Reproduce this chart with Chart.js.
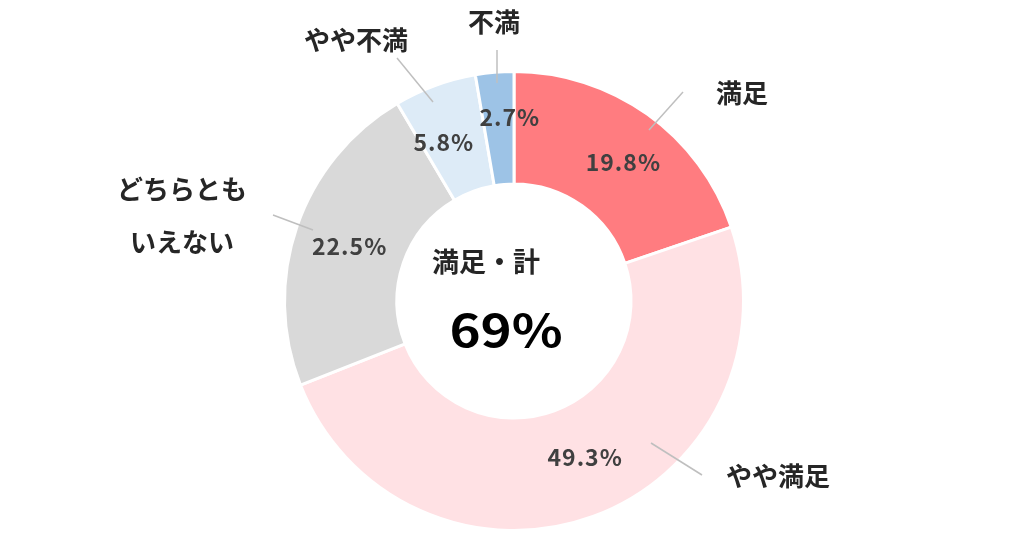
<!DOCTYPE html>
<html lang="ja">
<head>
<meta charset="utf-8">
<title>満足度</title>
<script src="https://cdn.jsdelivr.net/npm/chart.js@4.4.1/dist/chart.umd.min.js"></script>
<style>
  html, body { margin: 0; padding: 0; background: #fff; }
  #wrap { width: 1024px; height: 538px; }
</style>
</head>
<body>
<div id="wrap"><canvas id="myChart" width="1024" height="538"></canvas></div>
<script>
'use strict';

// DATA
var categories = ['満足', 'やや満足', 'どちらとも\nいえない', 'やや不満', '不満'];
var shares = [19.8, 49.3, 22.5, 5.8, 2.7];
var totalLabel = '満足・計';
var totalValue = '69%';

// COLORS
var sliceColors = ['#FF7C80', '#FFE1E4', '#D9D9D9', '#DDEBF7', '#9DC3E6'];

// LABEL LAYOUT (px offsets, relative to the ring centre / slice centre)
var pctNudge = [[8, 2], [11, -6], [-1, 2], [-11, 4], [10, -11]];
var leaderLines = [
  [[169, -209], [135, -171]],
  [[137, 142], [188, 174]],
  [[-241, -86], [-201, -71]],
  [[-117, -243], [-81, -199]],
  [[-17, -251], [-17, -218]]
];
var nameSpots = [[228, -208], [264, 175], [-332, -112], [-158, -261], [-20, -279]];
var lineGap = 53;

var FONT = '"Noto Sans CJK JP", "Noto Sans", sans-serif';

// LABELS PLUGIN
var ringLabels = {
  id: 'ringLabels',
  afterDatasetsDraw: function(chart) {
    var ctx = chart.ctx;
    var arcs = chart.getDatasetMeta(0).data;
    if (!arcs.length) return;
    var cx = arcs[0].x, cy = arcs[0].y;

    ctx.save();
    ctx.textAlign = 'center';
    ctx.textBaseline = 'middle';

    // leader lines
    ctx.strokeStyle = '#BFBFBF';
    ctx.lineWidth = 1.5;
    leaderLines.forEach(function(l) {
      ctx.beginPath();
      ctx.moveTo(cx + l[0][0], cy + l[0][1]);
      ctx.lineTo(cx + l[1][0], cy + l[1][1]);
      ctx.stroke();
    });

    // percentages
    ctx.fillStyle = '#404040';
    ctx.font = 'bold 23px ' + FONT;
    ctx.letterSpacing = '1px';
    arcs.forEach(function(arc, i) {
      var p = arc.tooltipPosition();
      ctx.fillText(shares[i].toFixed(1) + '%', p.x + pctNudge[i][0] + 0.5, p.y + pctNudge[i][1]);
    });

    // category names
    ctx.letterSpacing = '0px';
    ctx.fillStyle = '#262626';
    ctx.font = 'bold 26px ' + FONT;
    categories.forEach(function(name, i) {
      name.split('\n').forEach(function(part, k) {
        ctx.fillText(part, cx + nameSpots[i][0], cy + nameSpots[i][1] + k * lineGap);
      });
    });

    // centre text
    ctx.fillStyle = '#262626';
    ctx.font = 'bold 27px ' + FONT;
    ctx.fillText(totalLabel, cx - 28, cy - 39);

    // big number, a bit wider like the original font
    ctx.fillStyle = '#000';
    ctx.font = 'bold 44px ' + FONT;
    ctx.translate(cx - 8, cy + 29);
    ctx.scale(1.2, 1);
    ctx.fillText(totalValue, 0, 0);
    ctx.restore();
  }
};

// WYKRES
var ctx = document.getElementById('myChart').getContext('2d');

var chart = new Chart(ctx, {
  type: 'doughnut',
  data: {
    labels: categories,
    datasets: [{
      data: shares,
      backgroundColor: sliceColors,
      borderColor: '#FFFFFF',
      borderWidth: 3
    }]
  },
  options: {
    responsive: false,
    animation: false,
    cutout: '51%',
    layout: { padding: { top: 70, bottom: 6, left: 4, right: 0 } },
    plugins: {
      legend: { display: false },
      tooltip: { enabled: false }
    }
  },
  plugins: [ringLabels]
});
</script>
</body>
</html>
